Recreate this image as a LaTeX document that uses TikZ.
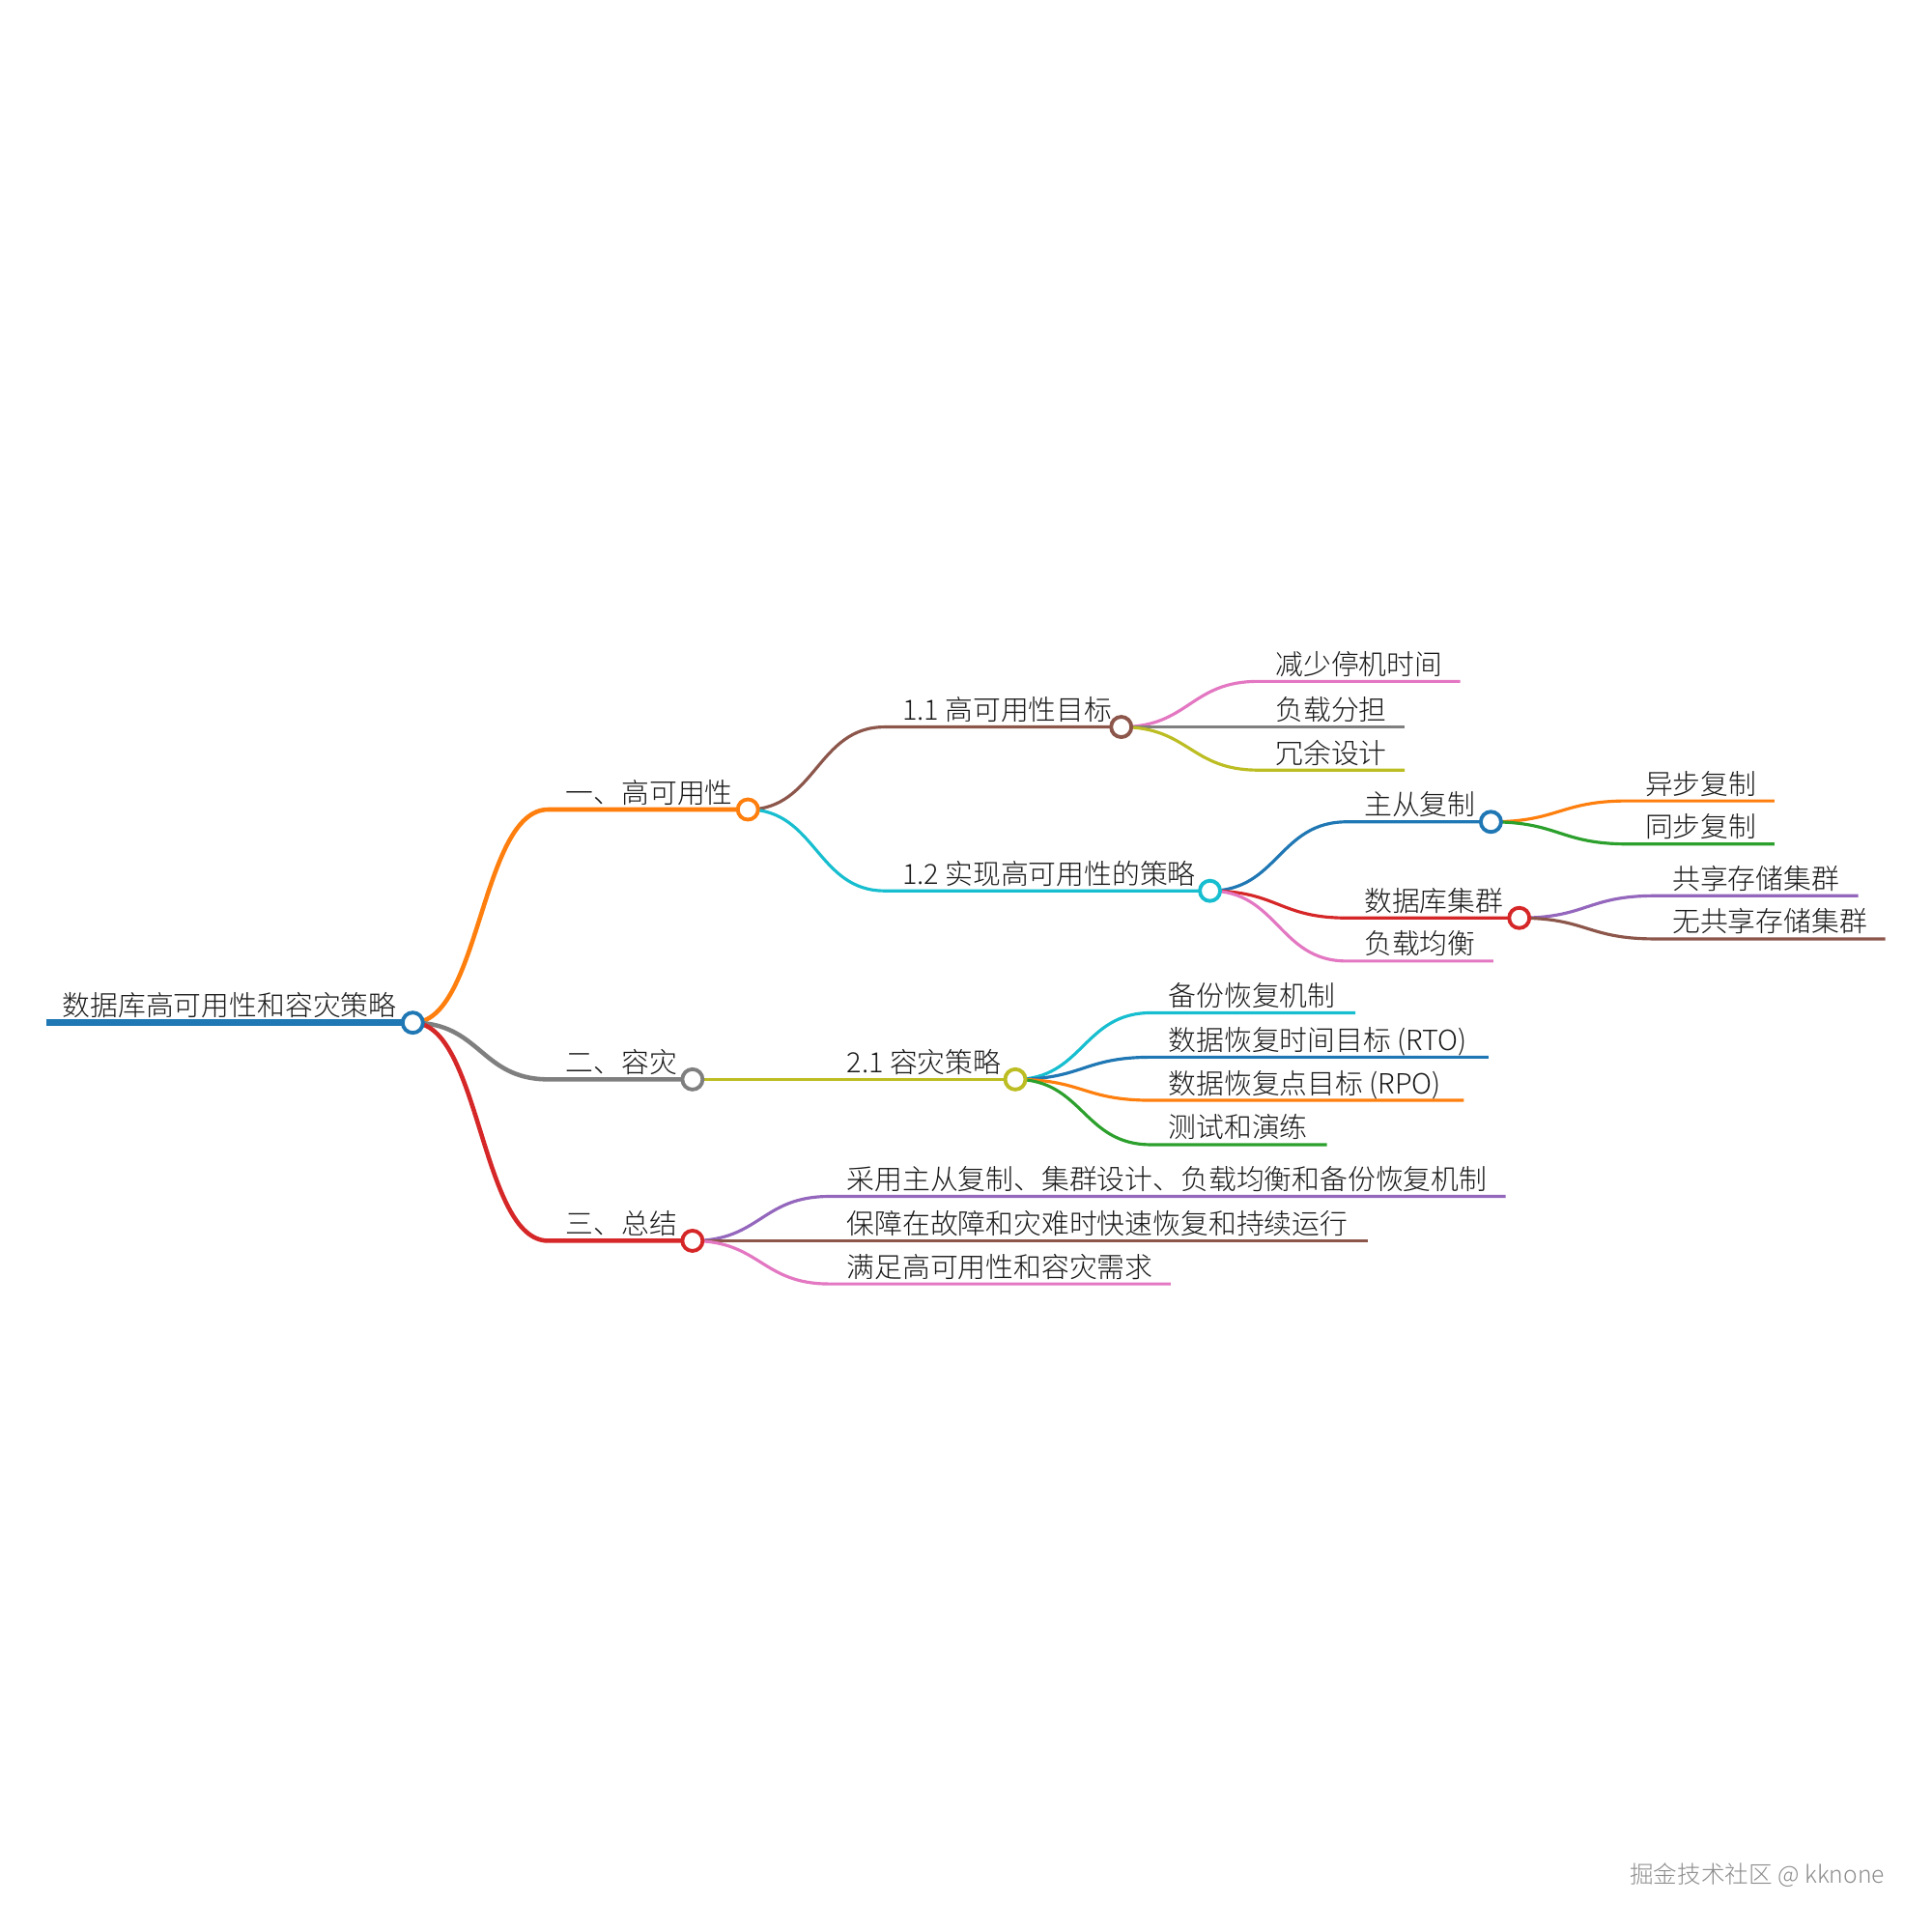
\documentclass[tikz,border=0pt]{standalone}
\usepackage{fontspec}
\setmainfont{Noto Sans CJK SC}[UprightFont=* Light]
\usetikzlibrary{backgrounds}

\definecolor{cBlue}{HTML}{1F77B4}
\definecolor{cOrange}{HTML}{FF7F0E}
\definecolor{cGreen}{HTML}{2CA02C}
\definecolor{cRed}{HTML}{D62728}
\definecolor{cPurple}{HTML}{9467BD}
\definecolor{cBrown}{HTML}{8C564B}
\definecolor{cPink}{HTML}{E377C2}
\definecolor{cGray}{HTML}{7F7F7F}
\definecolor{cOlive}{HTML}{BCBD22}
\definecolor{cCyan}{HTML}{17BECF}

\begin{document}
\begin{tikzpicture}[
  x=0.012755cm, y=-0.012755cm,
  font=\fontsize{8.2pt}{10pt}\selectfont,
  dot/.style   ={circle, draw, fill=white, line width=1.1pt, inner sep=0pt, minimum size=2.1mm},
  lbl/.style   ={anchor=base west, inner sep=0pt, xshift=1.75mm, yshift=0.7mm, text=black!90},
  trunk/.style ={line width=2pt},
  main/.style  ={line width=1.3pt},
  twig/.style  ={line width=0.9pt},
  sroute/.style={to path={.. controls +(55,0) and +(-55,0) .. (\tikztotarget)}},
]
  \useasboundingbox (0,0) rectangle (1568,1568);

  % root
  \coordinate (rootS) at (38,830);
  \node[dot, draw=cBlue] (root) at (335,830) {};
  \node[lbl, xshift=-0.2mm] (rootT) at (rootS) {数据库高可用性和容灾策略};

  % 一、高可用性
  \coordinate (haS) at (445,657);
  \node[dot, draw=cOrange] (ha) at (607,657) {};
  \node[lbl] (haT) at (haS) {一、高可用性};

  \coordinate (haGoalS) at (718,590);
  \node[dot, draw=cBrown] (haGoal) at (910,590) {};
  \node[lbl] (haGoalT) at (haGoalS) {1.1 高可用性目标};

  \coordinate (goalDownS) at (1021,553) ; \coordinate (goalDownE) at (1185,553);
  \node[lbl] (goalDown) at (goalDownS) {减少停机时间};
  \coordinate (goalLoadS) at (1021,590) ; \coordinate (goalLoadE) at (1140,590);
  \node[lbl] (goalLoad) at (goalLoadS) {负载分担};
  \coordinate (goalRedS)  at (1021,625) ; \coordinate (goalRedE)  at (1140,625);
  \node[lbl] (goalRed) at (goalRedS) {冗余设计};

  \coordinate (haWayS) at (718,723);
  \node[dot, draw=cCyan] (haWay) at (982,723) {};
  \node[lbl] (haWayT) at (haWayS) {1.2 实现高可用性的策略};

  \coordinate (wayReplS) at (1093,667);
  \node[dot, draw=cBlue] (wayRepl) at (1210,667) {};
  \node[lbl] (wayReplT) at (wayReplS) {主从复制};
  \coordinate (replAsyncS) at (1321,650) ; \coordinate (replAsyncE) at (1440,650);
  \node[lbl] (replAsync) at (replAsyncS) {异步复制};
  \coordinate (replSyncS)  at (1321,685) ; \coordinate (replSyncE)  at (1440,685);
  \node[lbl] (replSync) at (replSyncS) {同步复制};

  \coordinate (wayClusS) at (1093,745);
  \node[dot, draw=cRed] (wayClus) at (1233,745) {};
  \node[lbl] (wayClusT) at (wayClusS) {数据库集群};
  \coordinate (clusSharedS) at (1343,727) ; \coordinate (clusSharedE) at (1508,727);
  \node[lbl] (clusShared) at (clusSharedS) {共享存储集群};
  \coordinate (clusNoneS)   at (1343,762) ; \coordinate (clusNoneE)   at (1530,762);
  \node[lbl] (clusNone) at (clusNoneS) {无共享存储集群};

  \coordinate (wayBalS) at (1093,780) ; \coordinate (wayBalE) at (1212,780);
  \node[lbl] (wayBal) at (wayBalS) {负载均衡};

  % 二、容灾
  \coordinate (drS) at (445,876);
  \node[dot, draw=cGray] (dr) at (562,876) {};
  \node[lbl] (drT) at (drS) {二、容灾};

  \coordinate (drPlanS) at (673,876);
  \node[dot, draw=cOlive] (drPlan) at (824,876) {};
  \node[lbl] (drPlanT) at (drPlanS) {2.1 容灾策略};

  \coordinate (planBackS) at (934,822) ; \coordinate (planBackE) at (1100,822);
  \node[lbl] (planBack) at (planBackS) {备份恢复机制};
  \coordinate (planRtoS)  at (934,858) ; \coordinate (planRtoE)  at (1208,858);
  \node[lbl] (planRto) at (planRtoS) {数据恢复时间目标 (RTO)};
  \coordinate (planRpoS)  at (934,893) ; \coordinate (planRpoE)  at (1188,893);
  \node[lbl] (planRpo) at (planRpoS) {数据恢复点目标 (RPO)};
  \coordinate (planTestS) at (934,929) ; \coordinate (planTestE) at (1077,929);
  \node[lbl] (planTest) at (planTestS) {测试和演练};

  % 三、总结
  \coordinate (sumS) at (445,1007);
  \node[dot, draw=cRed] (sum) at (562,1007) {};
  \node[lbl] (sumT) at (sumS) {三、总结};

  \coordinate (sumUseS)  at (673,971)  ; \coordinate (sumUseE)  at (1222,971);
  \node[lbl] (sumUse) at (sumUseS) {采用主从复制、集群设计、负载均衡和备份恢复机制};
  \coordinate (sumKeepS) at (673,1007) ; \coordinate (sumKeepE) at (1110,1007);
  \node[lbl] (sumKeep) at (sumKeepS) {保障在故障和灾难时快速恢复和持续运行};
  \coordinate (sumMeetS) at (673,1042) ; \coordinate (sumMeetE) at (950,1042);
  \node[lbl] (sumMeet) at (sumMeetS) {满足高可用性和容灾需求};

  \node[anchor=base east, inner sep=0pt, font=\fontsize{7pt}{8pt}\selectfont, text=black!45] (mark) at (1530,1528) {掘金技术社区 @ kknone};

  \begin{pgfonlayer}{background}
    \draw[trunk, cBlue] (rootS) -- (root.center);
    \draw[main, cOrange] (root.center) to[sroute] (haS) -- (ha.center);
    \draw[main, cGray]   (root.center) to[sroute] (drS) -- (dr.center);
    \draw[main, cRed]    (root.center) to[sroute] (sumS) -- (sum.center);

    \draw[twig, cBrown] (ha.center) to[sroute] (haGoalS) -- (haGoal.center);
    \draw[twig, cCyan]  (ha.center) to[sroute] (haWayS) -- (haWay.center);
    \draw[twig, cPink]  (haGoal.center) to[sroute] (goalDownS) -- (goalDownE);
    \draw[twig, cGray]  (haGoal.center) to[sroute] (goalLoadS) -- (goalLoadE);
    \draw[twig, cOlive] (haGoal.center) to[sroute] (goalRedS) -- (goalRedE);
    \draw[twig, cBlue]  (haWay.center) to[sroute] (wayReplS) -- (wayRepl.center);
    \draw[twig, cRed]   (haWay.center) to[sroute] (wayClusS) -- (wayClus.center);
    \draw[twig, cPink]  (haWay.center) to[sroute] (wayBalS) -- (wayBalE);
    \draw[twig, cOrange] (wayRepl.center) to[sroute] (replAsyncS) -- (replAsyncE);
    \draw[twig, cGreen]  (wayRepl.center) to[sroute] (replSyncS) -- (replSyncE);
    \draw[twig, cPurple] (wayClus.center) to[sroute] (clusSharedS) -- (clusSharedE);
    \draw[twig, cBrown]  (wayClus.center) to[sroute] (clusNoneS) -- (clusNoneE);

    \draw[twig, cOlive]  (dr.center) to[sroute] (drPlanS) -- (drPlan.center);
    \draw[twig, cCyan]   (drPlan.center) to[sroute] (planBackS) -- (planBackE);
    \draw[twig, cBlue]   (drPlan.center) to[sroute] (planRtoS) -- (planRtoE);
    \draw[twig, cOrange] (drPlan.center) to[sroute] (planRpoS) -- (planRpoE);
    \draw[twig, cGreen]  (drPlan.center) to[sroute] (planTestS) -- (planTestE);

    \draw[twig, cPurple] (sum.center) to[sroute] (sumUseS) -- (sumUseE);
    \draw[twig, cBrown]  (sum.center) to[sroute] (sumKeepS) -- (sumKeepE);
    \draw[twig, cPink]   (sum.center) to[sroute] (sumMeetS) -- (sumMeetE);
  \end{pgfonlayer}
\end{tikzpicture}
\end{document}
